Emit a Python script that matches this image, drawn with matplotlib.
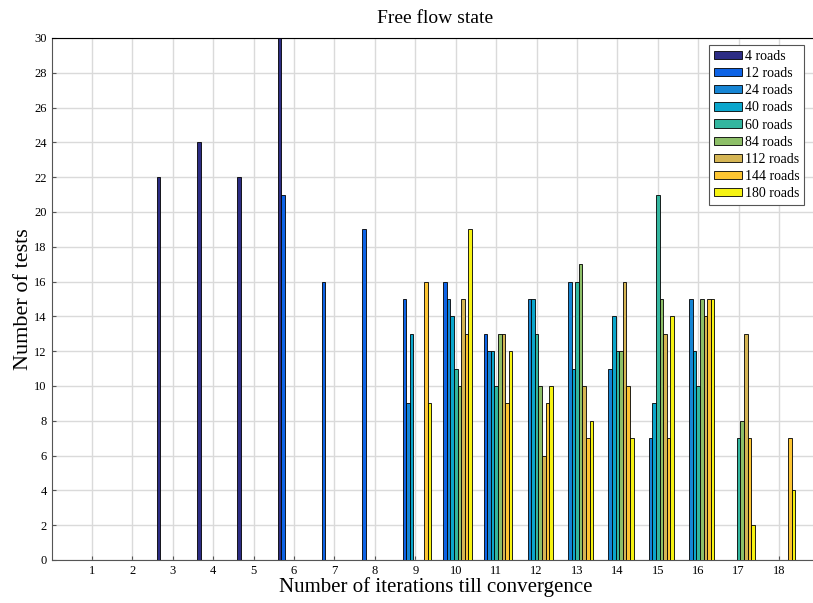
import numpy as np
import matplotlib.pyplot as plt

plt.rcParams['font.family'] = ['Liberation Serif', 'DejaVu Serif']

iterations = list(range(1, 19))
labels = ['4 roads', '12 roads', '24 roads', '40 roads', '60 roads',
          '84 roads', '112 roads', '144 roads', '180 roads']

# number of tests per iteration count, one list per road count
r4   = [0, 0, 22, 24, 22, 30, 0, 0, 0, 0, 0, 0, 0, 0, 0, 0, 0, 0]
r12  = [0, 0, 0, 0, 0, 21, 16, 19, 15, 16, 13, 0, 0, 0, 0, 0, 0, 0]
r24  = [0, 0, 0, 0, 0, 0, 0, 0, 9, 15, 12, 15, 16, 11, 7, 15, 0, 0]
r40  = [0, 0, 0, 0, 0, 0, 0, 0, 13, 14, 12, 15, 11, 14, 9, 12, 0, 0]
r60  = [0, 0, 0, 0, 0, 0, 0, 0, 0, 11, 10, 13, 16, 12, 21, 10, 7, 0]
r84  = [0, 0, 0, 0, 0, 0, 0, 0, 0, 10, 13, 10, 17, 12, 15, 15, 8, 0]
r112 = [0, 0, 0, 0, 0, 0, 0, 0, 0, 15, 13, 6, 10, 16, 13, 14, 13, 0]
r144 = [0, 0, 0, 0, 0, 0, 0, 0, 16, 13, 9, 9, 7, 10, 7, 15, 7, 7]
r180 = [0, 0, 0, 0, 0, 0, 0, 0, 9, 19, 12, 10, 8, 7, 14, 15, 2, 4]
series = [r4, r12, r24, r40, r60, r84, r112, r144, r180]

colors = ['#2c2c84', '#0d63e6', '#1685d4', '#0aa6cc', '#33b69f',
          '#8dbf68', '#d5b554', '#fdc532', '#f6f313']

fig = plt.figure(figsize=(8.13, 6.03), dpi=100)
ax = fig.add_axes([51.5/813, 43/603, 768/813, 522/603])

n = len(series)
gw = 0.8
bw = gw / n
x = np.array(iterations)
for i, (vals, c, lab) in enumerate(zip(series, colors, labels)):
    off = -gw/2 + (2*i + 1) * gw / (2*n)
    ax.bar(x + off, vals, bw, color=c, edgecolor='black', linewidth=0.6,
           label=lab, zorder=3)

ax.set_xlim(0, 19)
ax.set_ylim(0, 30)
ax.set_xticks(iterations)
ax.set_yticks(np.arange(0, 31, 2))
ax.tick_params(direction='in', labelsize=9, length=3, color='#555555')
ax.grid(True, color='#dadada', linewidth=1, zorder=0)
ax.set_axisbelow(True)
for s in ['left', 'bottom']:
    ax.spines[s].set_color('#555555')
ax.spines['top'].set_color('black')
ax.spines['right'].set_visible(False)

ax.set_title('Free flow state', fontsize=14, pad=11)
ax.set_xlabel('Number of iterations till convergence', fontsize=15, labelpad=0)
ax.set_ylabel('Number of tests', fontsize=16, labelpad=1)

leg = ax.legend(loc='upper right', bbox_to_anchor=(804/813, 1-45/603),
                bbox_transform=fig.transFigure, fontsize=10, fancybox=False,
                framealpha=1, edgecolor='#555555', borderpad=0.35,
                labelspacing=0.3, handlelength=2.0, handleheight=0.55,
                handletextpad=0.2, borderaxespad=0)
leg.get_frame().set_linewidth(0.8)

plt.savefig('out.png', dpi=100)
